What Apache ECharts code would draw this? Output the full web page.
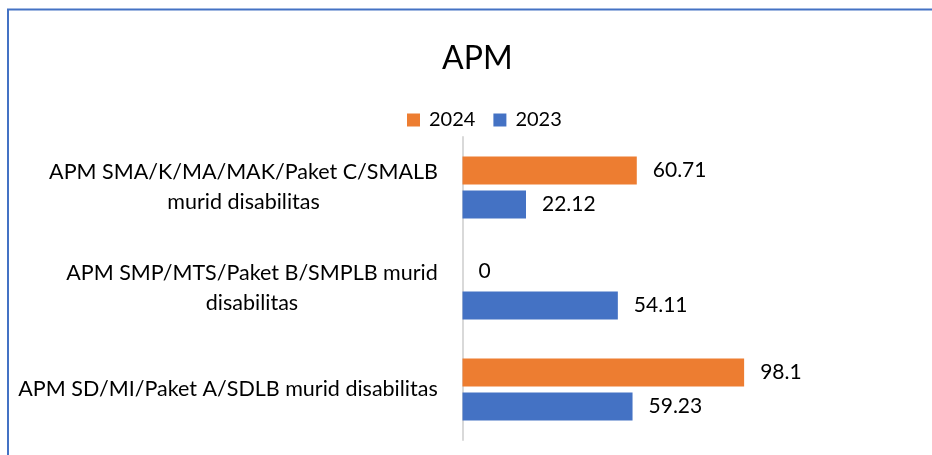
<!DOCTYPE html>
<html><head><meta charset="utf-8">
<script src="https://cdn.jsdelivr.net/npm/echarts@6/dist/echarts.min.js"></script>
<style>html,body{margin:0;padding:0;background:#fff}#c{width:932px;height:455px}</style>
</head><body><div id="c"></div>
<script>
const titleText = 'APM';
const categories = [
  'APM SD/MI/Paket A/SDLB murid disabilitas',
  'APM SMP/MTS/Paket B/SMPLB murid\ndisabilitas',
  'APM SMA/K/MA/MAK/Paket C/SMALB\nmurid disabilitas'
];
const seriesNames = ['2024', '2023'];
const values2024 = [98.1, 0, 60.71];
const values2023 = [59.23, 54.11, 22.12];

const FONT = 'Lato';
const LABEL_SIZE = 21.5;
const ctx = document.createElement('canvas').getContext('2d');
ctx.font = LABEL_SIZE + 'px ' + FONT;
const rich = {};
categories.forEach((c, i) => {
  const w = Math.max(...c.split('\n').map(s => ctx.measureText(s).width));
  rich['c' + i] = { width: Math.ceil(w) + 1, align: 'center', fontSize: LABEL_SIZE, fontFamily: FONT, lineHeight: 30, color: '#000' };
});

const chart = echarts.init(document.getElementById('c'));
chart.setOption({
  animation: false,
  backgroundColor: '#fff',
  graphic: [{
    type: 'rect', shape: { x: 8, y: 9.5, width: 1000, height: 1000 },
    style: { fill: 'none', stroke: '#4472C4', lineWidth: 2 }, silent: true
  }],
  title: {
    text: titleText, left: 437, top: 38,
    textStyle: { fontFamily: FONT, fontSize: 32, fontWeight: 'normal', color: '#000' }
  },
  legend: {
    data: seriesNames, left: 402, top: 105, icon: 'rect', itemWidth: 13, itemHeight: 13, itemGap: 18,
    textStyle: { fontFamily: FONT, fontSize: 20, color: '#000', padding: [0, 0, 0, 4] }
  },
  grid: { left: 462.5, right: 125, top: 137, bottom: 15, containLabel: false },
  xAxis: { type: 'value', min: 0, max: 120, show: false, splitLine: { show: false } },
  yAxis: {
    type: 'category', data: categories,
    axisLine: { show: true, lineStyle: { color: '#d9d9d9', width: 2 } },
    axisTick: { show: false },
    axisLabel: { margin: 24, formatter: (v, i) => '{c' + i + '|' + v + '}', rich: rich }
  },
  series: [
    { name: '2024', type: 'bar', data: values2024, barWidth: 28, barGap: '21.4%', itemStyle: { color: '#ED7D31' },
      label: { show: true, position: 'right', distance: 16, fontFamily: FONT, fontSize: 21, color: '#000' } },
    { name: '2023', type: 'bar', data: values2023, barWidth: 28, barGap: '21.4%', itemStyle: { color: '#4472C4' },
      label: { show: true, position: 'right', distance: 16, fontFamily: FONT, fontSize: 21, color: '#000' } }
  ]
});
</script>
</body></html>
